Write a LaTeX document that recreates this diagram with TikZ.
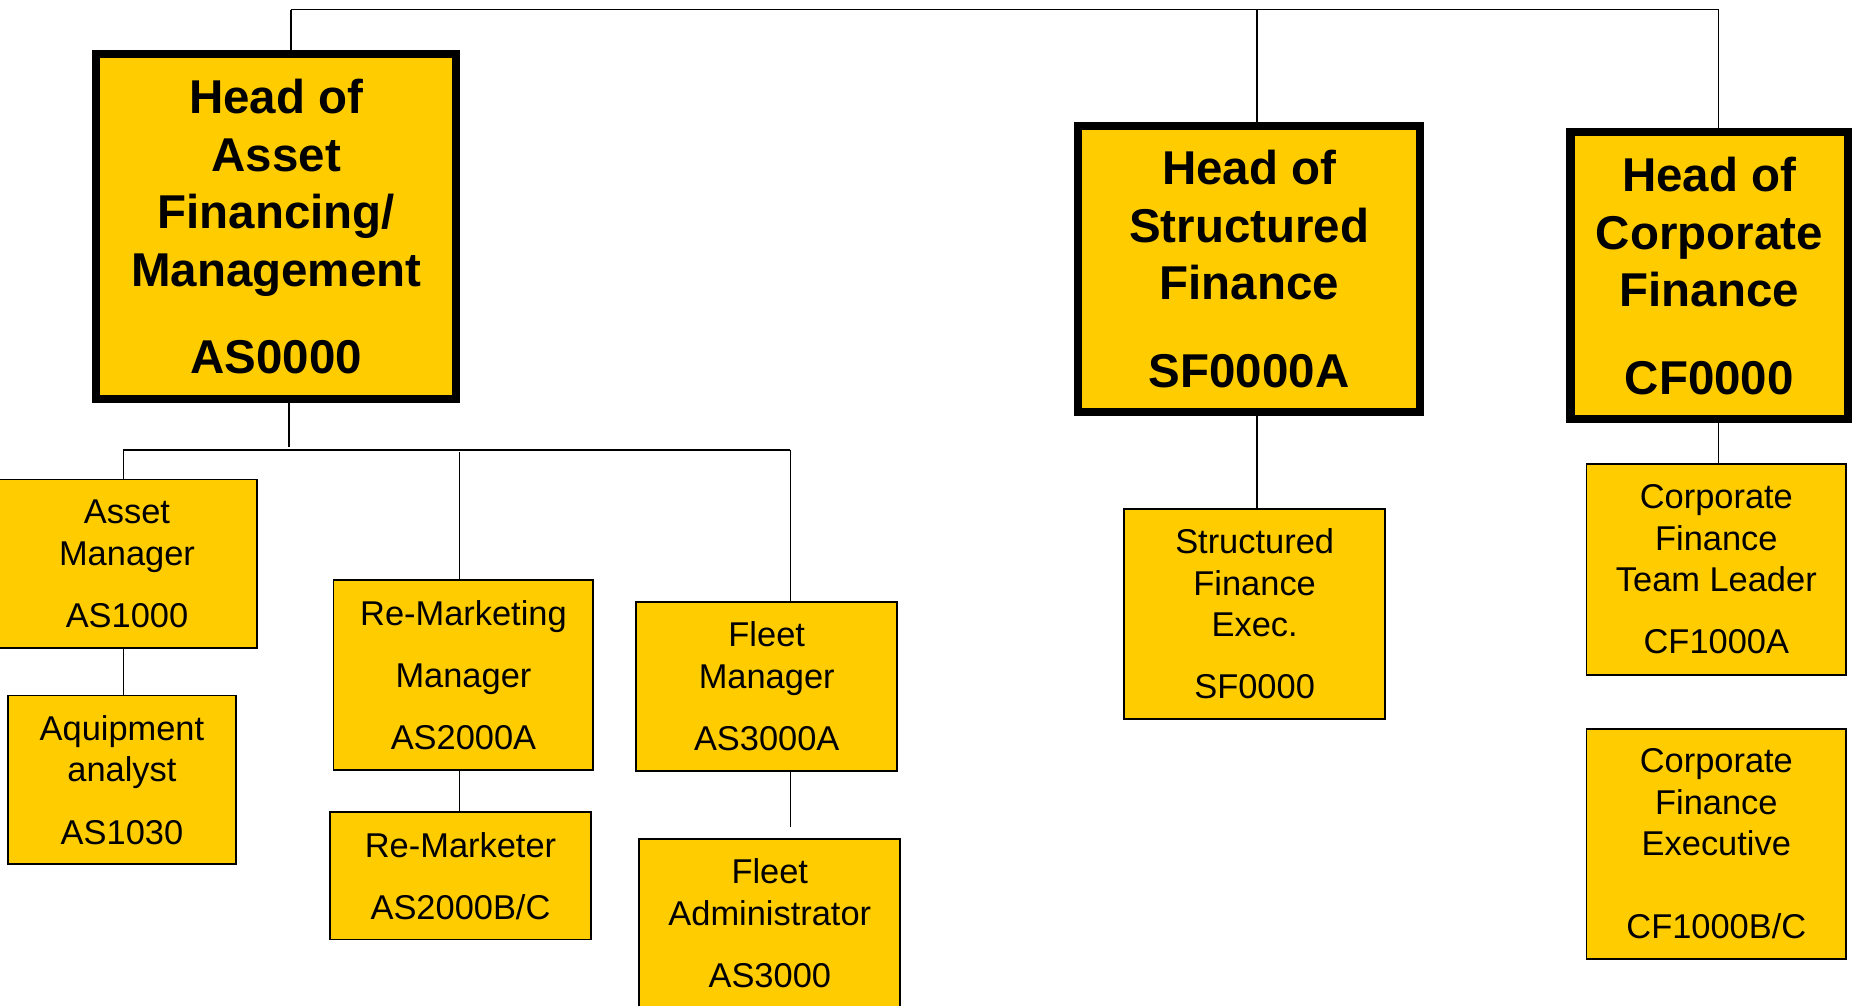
\documentclass[tikz,border=0pt]{standalone}
\usepackage{fontspec}
\setmainfont{Liberation Sans}
\definecolor{boxyellow}{RGB}{255,204,0}
\tikzset{
  head/.style={draw, fill=boxyellow, line width=3.4pt, align=center, inner sep=0pt,
    font=\fontsize{20}{24.3}\selectfont\bfseries},
  post/.style={draw, fill=boxyellow, line width=0.8pt, align=center, inner sep=0pt,
    font=\fontsize{14.5}{17.5}\selectfont},
  link/.style={line width=0.65pt},
}
\begin{document}
\begin{tikzpicture}[x=0.5pt, y=-0.5pt]
\useasboundingbox (0,0) rectangle (1568,847.6);
\clip (0,0) rectangle (1568,847.6);
% heads
\node[head, minimum width=151.75pt, minimum height=145.5pt] (hAS) at (232.75,191)
  {Head of\\Asset\\Financing/\\Management\\[12.5pt]AS0000};
\node[head, minimum width=144pt, minimum height=120.5pt] (hSF) at (1052.5,226.5)
  {Head of\\Structured\\Finance\\[12.5pt]SF0000A};
\node[head, minimum width=116.9pt, minimum height=120.75pt] (hCF) at (1440.1,232.3)
  {Head of\\Corporate\\Finance\\[12.5pt]CF0000};
% posts
\node[post, minimum width=109.5pt, minimum height=71pt] (AM) at (107,475)
  {Asset\\Manager\\[8.75pt]AS1000};
\node[post, minimum width=96.25pt, minimum height=71pt] (AA) at (102.75,657)
  {Aquipment\\analyst\\[8.75pt]AS1030};
\node[post, minimum width=109.5pt, minimum height=79.75pt] (RMM) at (390.5,568.75)
  {Re-Marketing\\[8.75pt]Manager\\[8.75pt]AS2000A};
\node[post, minimum width=110pt, minimum height=53.6pt] (RM) at (388,738)
  {Re-Marketer\\[8.75pt]AS2000B/C};
\node[post, minimum width=110pt, minimum height=71pt] (FM) at (646,578.25)
  {Fleet\\Manager\\[8.75pt]AS3000A};
\node[post, minimum width=109.9pt, minimum height=71pt] (FA) at (648.6,778)
  {Fleet\\Administrator\\[8.75pt]AS3000};
\node[post, minimum width=109.7pt, minimum height=88.6pt] (SFE) at (1057.1,517.2)
  {Structured\\Finance\\Exec.\\[8.75pt]SF0000};
\node[post, minimum width=109.4pt, minimum height=88.7pt] (CFTL) at (1446.1,479.7)
  {Corporate\\Finance\\Team Leader\\[8.75pt]CF1000A};
\node[post, minimum width=109.4pt, minimum height=97pt] (CFE) at (1446.1,711)
  {Corporate\\Finance\\Executive\\[17.5pt]CF1000B/C};
% top bus
\coordinate (T1) at (245,8);
\coordinate (T2) at (1059.3,8);
\coordinate (T3) at (1448,8);
\draw[link] (T1) -- (T3);
\draw[link] (T1) -- (T1 |- hAS.north);
\draw[link] (T2) -- (T2 |- hSF.north);
\draw[link] (T3) -- (T3 |- hCF.north);
% asset financing bus
\coordinate (S0) at (243.5,377);
\coordinate (S1) at (104,379);
\coordinate (S2) at (387,381);
\coordinate (S3) at (666,379);
\coordinate (F1) at (666,697);
\draw[link] (S0 |- hAS.south) -- (S0);
\draw[link] (S1) -- (S3);
\draw[link] (S1) -- (S1 |- AM.north);
\draw[link] (S2) -- (S2 |- RMM.north);
\draw[link] (S3) -- (S3 |- FM.north);
\draw[link] (S1 |- AM.south) -- (S1 |- AA.north);
\draw[link] (S2 |- RMM.south) -- (S2 |- RM.north);
\draw[link] (S3 |- FM.south) -- (F1);
% structured and corporate
\draw[link] (T2 |- hSF.south) -- (T2 |- SFE.north);
\draw[link] (T3 |- hCF.south) -- (T3 |- CFTL.north);
\end{tikzpicture}
\end{document}
